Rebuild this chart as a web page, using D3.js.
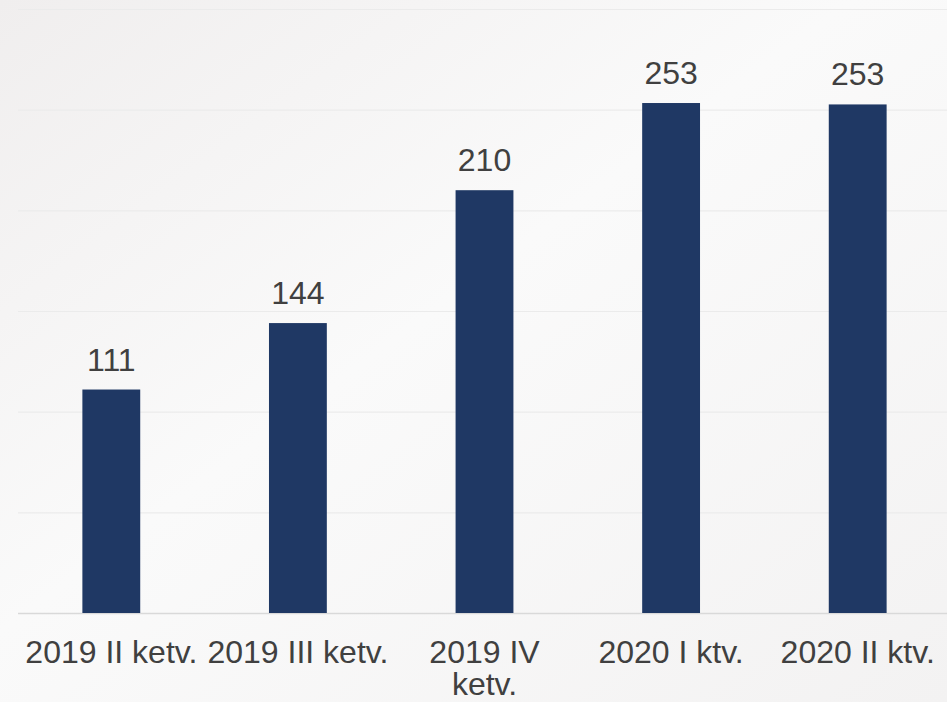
<!DOCTYPE html>
<html>
<head>
<meta charset="utf-8">
<script src="https://cdn.jsdelivr.net/npm/d3@7"></script>
<style>
  html, body { margin: 0; padding: 0; }
  body { width: 947px; height: 702px; overflow: hidden; }
</style>
</head>
<body>
<div id="viz"></div>
<script>
// chart data
const categories = ["2019 II ketv.", "2019 III ketv.", "2019 IV ketv.", "2020 I ktv.", "2020 II ktv."];
const tickLines = [["2019 II ketv."], ["2019 III ketv."], ["2019 IV", "ketv."], ["2020 I ktv."], ["2020 II ktv."]];
const values = [111, 144, 210, 253.3, 252.6];
const yTicks = [0, 50, 100, 150, 200, 250, 300];

const width = 947, height = 702;

const svg = d3.select("#viz")
  .append("svg")
    .attr("width", width)
    .attr("height", height);

// soft background in place of the faded photo
const defs = svg.append("defs");
const grad = defs.append("linearGradient")
    .attr("id", "bg")
    .attr("x1", "0").attr("y1", "0").attr("x2", "1").attr("y2", "1");
grad.append("stop").attr("offset", "0%").attr("stop-color", "#f0eeee");
grad.append("stop").attr("offset", "45%").attr("stop-color", "#fafafa");
grad.append("stop").attr("offset", "100%").attr("stop-color", "#f3f2f2");
svg.append("rect")
    .attr("width", width)
    .attr("height", height)
    .attr("fill", "url(#bg)");

// scales
const x = d3.scaleBand()
  .domain(categories)
  .range([18, 951])
  .paddingInner(0.69)
  .paddingOuter(0.345);

const y = d3.scaleLinear()
  .domain([0, 300])
  .range([613, 9]);

// gridlines
svg.append("g")
  .attr("transform", "translate(18,0)")
  .call(d3.axisLeft(y).tickValues(yTicks).tickSize(-940).tickFormat(""))
  .call(g => g.select(".domain").remove())
  .call(g => g.selectAll(".tick line")
    .attr("stroke", d => d === 0 ? "#d9d9d9" : "#ebebeb")
    .attr("stroke-width", d => d === 0 ? 1.5 : 1.2));

// bars
svg.append("g")
  .selectAll("rect")
  .data(values)
  .join("rect")
    .attr("x", (d, i) => x(categories[i]))
    .attr("y", d => y(d))
    .attr("width", x.bandwidth())
    .attr("height", d => y(0) - y(d))
    .attr("fill", "#1f3864");

// value labels
svg.append("g")
  .selectAll("text")
  .data(values)
  .join("text")
    .attr("x", (d, i) => x(categories[i]) + x.bandwidth() / 2)
    .attr("y", d => y(d) - 19)
    .attr("text-anchor", "middle")
    .attr("font-family", "Liberation Sans, Arial, sans-serif")
    .attr("font-size", "32px")
    .attr("fill", "#404040")
    .text(d => d3.format(".0f")(d));

// x axis labels
const xAxis = svg.append("g")
  .attr("transform", "translate(0,613)")
  .call(d3.axisBottom(x).tickSize(0).tickFormat(""))
  .call(g => g.select(".domain").remove());

xAxis.selectAll(".tick")
  .append("text")
    .attr("text-anchor", "middle")
    .attr("font-family", "Liberation Sans, Arial, sans-serif")
    .attr("font-size", "32px")
    .attr("fill", "#404040")
  .selectAll("tspan")
  .data((d, i) => tickLines[i])
  .join("tspan")
    .attr("x", 0)
    .attr("y", (d, j) => 50 + j * 32)
    .text(d => d);
</script>
</body>
</html>
